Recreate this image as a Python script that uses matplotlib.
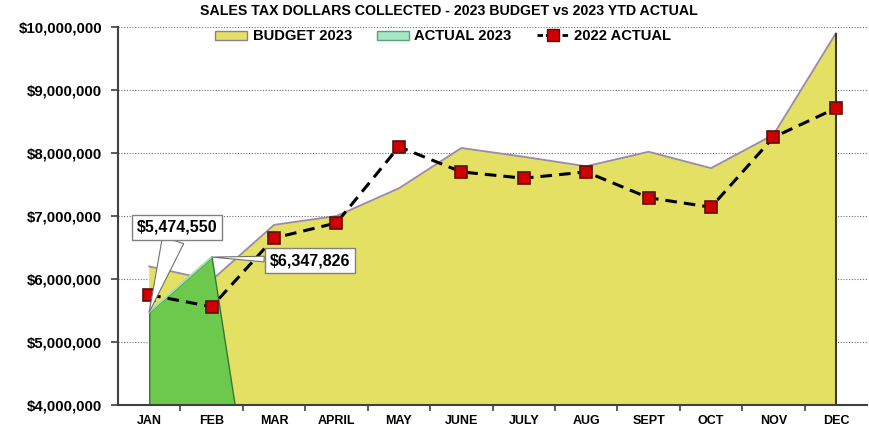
import matplotlib
matplotlib.use("Agg")
import matplotlib.pyplot as plt
from matplotlib.patches import Patch
from matplotlib.lines import Line2D
from matplotlib.ticker import FuncFormatter, MultipleLocator

months = ["JAN", "FEB", "MAR", "APRIL", "MAY", "JUNE", "JULY", "AUG", "SEPT", "OCT", "NOV", "DEC"]
budget_2023 = [6200000, 5980000, 6860000, 7000000, 7440000, 8080000, 7940000, 7790000, 8020000, 7760000, 8290000, 9900000]
actual_2023 = [5474550, 6347826, 0, 0, 0, 0, 0, 0, 0, 0, 0, 0]
actual_2022 = [5750000, 5560000, 6650000, 6890000, 8100000, 7700000, 7600000, 7700000, 7290000, 7140000, 8250000, 8710000]
callout_months = [0, 1]

# layout of the callout boxes (positions/styles, not data)
callout_layout = [dict(xytext=(0.45, 6820000), tail=1.4),
                  dict(xytext=(2.57, 6290000), tail=0.35)]

plt.rcParams['font.family'] = ['Liberation Sans', 'DejaVu Sans']
plt.rcParams['font.weight'] = 'bold'

fig = plt.figure(figsize=(8.69, 4.28), dpi=100)
ax = fig.add_axes([0.1358, 0.0537, 0.862, 0.8832])
x = list(range(len(months)))

ax.fill_between(x, budget_2023, 0, color="#e4e063", lw=0, zorder=2)
ax.plot(x, budget_2023, color="#9a8aac", lw=1.3, zorder=3)
ax.vlines(x[-1], 0, budget_2023[-1], color="#3a3a2a", lw=1.5, zorder=3)

ax.fill_between(x, actual_2023, 0, facecolor="#6cc94b", edgecolor="#2f7a3a", lw=1.0, zorder=4)
ax.plot(x[:2], actual_2023[:2], color="#9fe0b0", lw=1.5, zorder=4)

ax.plot(x, actual_2022, color="black", lw=2.2, ls=(0, (3.8, 2.3)), marker="s", ms=9,
        mfc="#d00000", mec="#5a1010", mew=1.2, zorder=6)

for idx, lay in zip(callout_months, callout_layout):
    val = actual_2023[idx]
    ax.annotate("${:,.0f}".format(val), xy=(x[idx], val), xytext=lay["xytext"],
                fontsize=11.5, fontweight="bold", ha="center", va="center", zorder=8,
                bbox=dict(boxstyle="square,pad=0.3", fc="white", ec="#808080", lw=1),
                arrowprops=dict(arrowstyle="wedge,tail_width=%g,shrink_factor=0.5" % lay["tail"],
                                fc="white", ec="#707070", lw=0.8, shrinkA=0, shrinkB=0),
                annotation_clip=False)

ax.set_xlim(-0.5, 11.5)
ax.set_ylim(4000000, 10000000)
ax.yaxis.set_major_locator(MultipleLocator(1000000))
ax.yaxis.set_major_formatter(FuncFormatter(lambda v, p: "${:,.0f}".format(v)))
ax.set_xticks(x)
ax.set_xticklabels(months)
ax.set_xticks([i + 0.5 for i in x[:-1]], minor=True)
ax.tick_params(axis="x", which="major", length=0, pad=7, labelsize=9)
ax.tick_params(axis="x", which="minor", length=4, width=1.2, color="#404040", direction="out")
ax.tick_params(axis="y", length=5, width=1.2, color="#404040", labelsize=10.8, pad=6.5)
for lbl in ax.get_xticklabels() + ax.get_yticklabels():
    lbl.set_fontweight("bold")

ax.grid(axis="y", ls=(0, (1, 1.5)), color="#707070", lw=0.8, zorder=1)
ax.set_axisbelow(True)
for s in ["top", "right"]:
    ax.spines[s].set_visible(False)
for s in ["left", "bottom"]:
    ax.spines[s].set_color("#404040")
    ax.spines[s].set_linewidth(1.5)
    ax.spines[s].set_zorder(7)

fig.text(0.516, 0.974, "SALES TAX DOLLARS COLLECTED - 2023 BUDGET vs 2023 YTD ACTUAL",
         ha="center", va="center", fontsize=10.2, fontweight="bold")

handles = [Patch(facecolor="#e4e063", edgecolor="#8a7fa0", label="BUDGET 2023"),
           Patch(facecolor="#a6e8c6", edgecolor="#5aa07a", label="ACTUAL 2023"),
           Line2D([0], [0], color="black", lw=2, ls=(0, (2, 1)), marker="s", ms=8,
                  mfc="#d00000", mec="#5a1010", label="2022 ACTUAL")]
fig.legend(handles=handles, loc="center", bbox_to_anchor=(0.51, 0.915), ncol=3,
           frameon=False, handlelength=2.2, handleheight=0.6,
           columnspacing=1.7, handletextpad=0.35, prop={"weight": "bold", "size": 10.6})

fig.savefig("out.png", dpi=100)
